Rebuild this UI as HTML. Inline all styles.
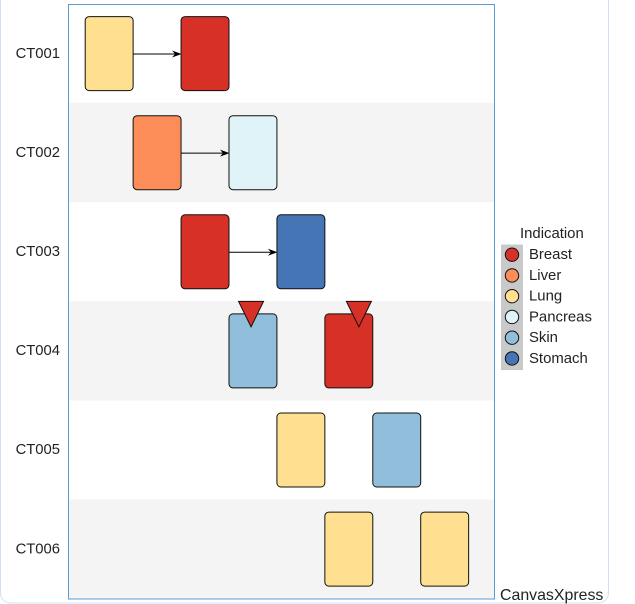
<!DOCTYPE html>
<html>
<head>
<meta charset="utf-8">
<style>
html,body{margin:0;padding:0;background:#fff;width:635px;height:604px;overflow:hidden}
svg{display:block;font-family:"Liberation Sans",Arial,sans-serif}
</style>
</head>
<body>
<svg id="chart" width="635" height="604" viewBox="0 0 635 604" xmlns="http://www.w3.org/2000/svg">
  <rect x="0.5" y="-20" width="608" height="623" rx="10" fill="#fff" stroke="#d3e0ef" stroke-width="1"/>
  <g id="bands"></g>
  <g id="links"></g>
  <g id="bars"></g>
  <g id="markers"></g>
  <rect x="68.5" y="4.5" width="426" height="594.5" fill="none" stroke="#5b9bd5" stroke-width="1"/>
  <g id="ylabels"></g>
  <g id="legend"></g>
  <text x="500" y="600" font-size="15.9" fill="#222">CanvasXpress</text>
</svg>
<script>
const categories = ['CT001', 'CT002', 'CT003', 'CT004', 'CT005', 'CT006'];
const firstStart = [0, 1, 2, 3, 4, 5];
const firstIndication = ['Lung', 'Liver', 'Breast', 'Skin', 'Lung', 'Lung'];
const secondStart = [2, 3, 4, 5, 6, 7];
const secondIndication = ['Breast', 'Pancreas', 'Stomach', 'Breast', 'Skin', 'Lung'];
const duration = [1, 1, 1, 1, 1, 1];
const linked = [true, true, true, false, false, false];
const markerRows = [3, 3];
const markerTimes = [3.46, 5.71];
const legendTitle = 'Indication';
const indications = ['Breast', 'Liver', 'Lung', 'Pancreas', 'Skin', 'Stomach'];
const indicationColors = ['#d73027', '#fc8d59', '#fee090', '#e0f3f8', '#91bfdb', '#4575b4'];

const NS = 'http://www.w3.org/2000/svg';
function xAxis(t) { return 85.2 + 47.93 * t; }
function yTop(row) { return 3.6 + 99.2 * row; }
function yMid(row) { return 53.6 + 99.1 * row; }
function colorOf(name) { return indicationColors[indications.indexOf(name)]; }
function mk(tag, attrs, parent) {
  const el = document.createElementNS(NS, tag);
  for (const k in attrs) el.setAttribute(k, attrs[k]);
  parent.appendChild(el);
  return el;
}
const gBands = document.getElementById('bands');
const gLinks = document.getElementById('links');
const gBars = document.getElementById('bars');
const gMarkers = document.getElementById('markers');
const gY = document.getElementById('ylabels');
const gLegend = document.getElementById('legend');

categories.forEach(function (cat, r) {
  if (r % 2 === 1) {
    const band = mk('rect', { x: 69, y: yTop(r), width: 425, height: 99.2, fill: '#f4f4f4' }, gBands);
    
    
  }
  const label = mk('text', { x: 60, y: yMid(r) + 4.2, 'font-size': 14.8, fill: '#222', 'text-anchor': 'end' }, gY);
  label.textContent = cat;
  
  

  [[firstStart[r], firstIndication[r]], [secondStart[r], secondIndication[r]]].forEach(function (b) {
    const x0 = xAxis(b[0]);
    const x1 = xAxis(b[0] + duration[r]);
    const bar = mk('rect', { x: x0, y: yMid(r) - 37, width: x1 - x0, height: 74, rx: 4, ry: 4, fill: colorOf(b[1]), stroke: '#111', 'stroke-width': 1 }, gBars);
    
    
  });

  if (linked[r]) {
    const ax0 = xAxis(firstStart[r] + duration[r]);
    const ax1 = xAxis(secondStart[r]);
    const y = yMid(r) + 0.4;
    const line = mk('line', { x1: ax0, y1: y, x2: ax1 - 3, y2: y, stroke: '#000', 'stroke-width': 1 }, gLinks);
    
    
    const head = mk('polygon', { points: (ax1 + 0.5) + ',' + y + ' ' + (ax1 - 9) + ',' + (y - 3.5) + ' ' + (ax1 - 6) + ',' + y + ' ' + (ax1 - 9) + ',' + (y + 3.5), fill: '#000' }, gLinks);
    
    
  }
});

markerTimes.forEach(function (t, i) {
  const cx = xAxis(t);
  const top = yTop(markerRows[i]) + 0.2;
  const tri = mk('polygon', { points: (cx - 12.5) + ',' + top + ' ' + (cx + 12.5) + ',' + top + ' ' + cx + ',' + (top + 25.5), fill: '#d73027', stroke: '#111', 'stroke-width': 1 }, gMarkers);
  
  
});

const legendHead = mk('text', { x: 520, y: 238, 'font-size': 14.9, fill: '#222' }, gLegend);
legendHead.textContent = legendTitle;


const legendBg = mk('rect', { x: 501, y: 244.5, width: 22, height: 125.5, fill: '#c9c9c9' }, gLegend);


indications.forEach(function (name, i) {
  const y = 254.7 + 20.75 * i;
  const dot = mk('circle', { cx: 512, cy: y, r: 6.7, fill: indicationColors[i], stroke: '#111', 'stroke-width': 1 }, gLegend);
  
  
  const txt = mk('text', { x: 529, y: y + 4.5, 'font-size': 14.9, fill: '#222' }, gLegend);
  txt.textContent = name;
  
  
});
</script>
</body>
</html>
